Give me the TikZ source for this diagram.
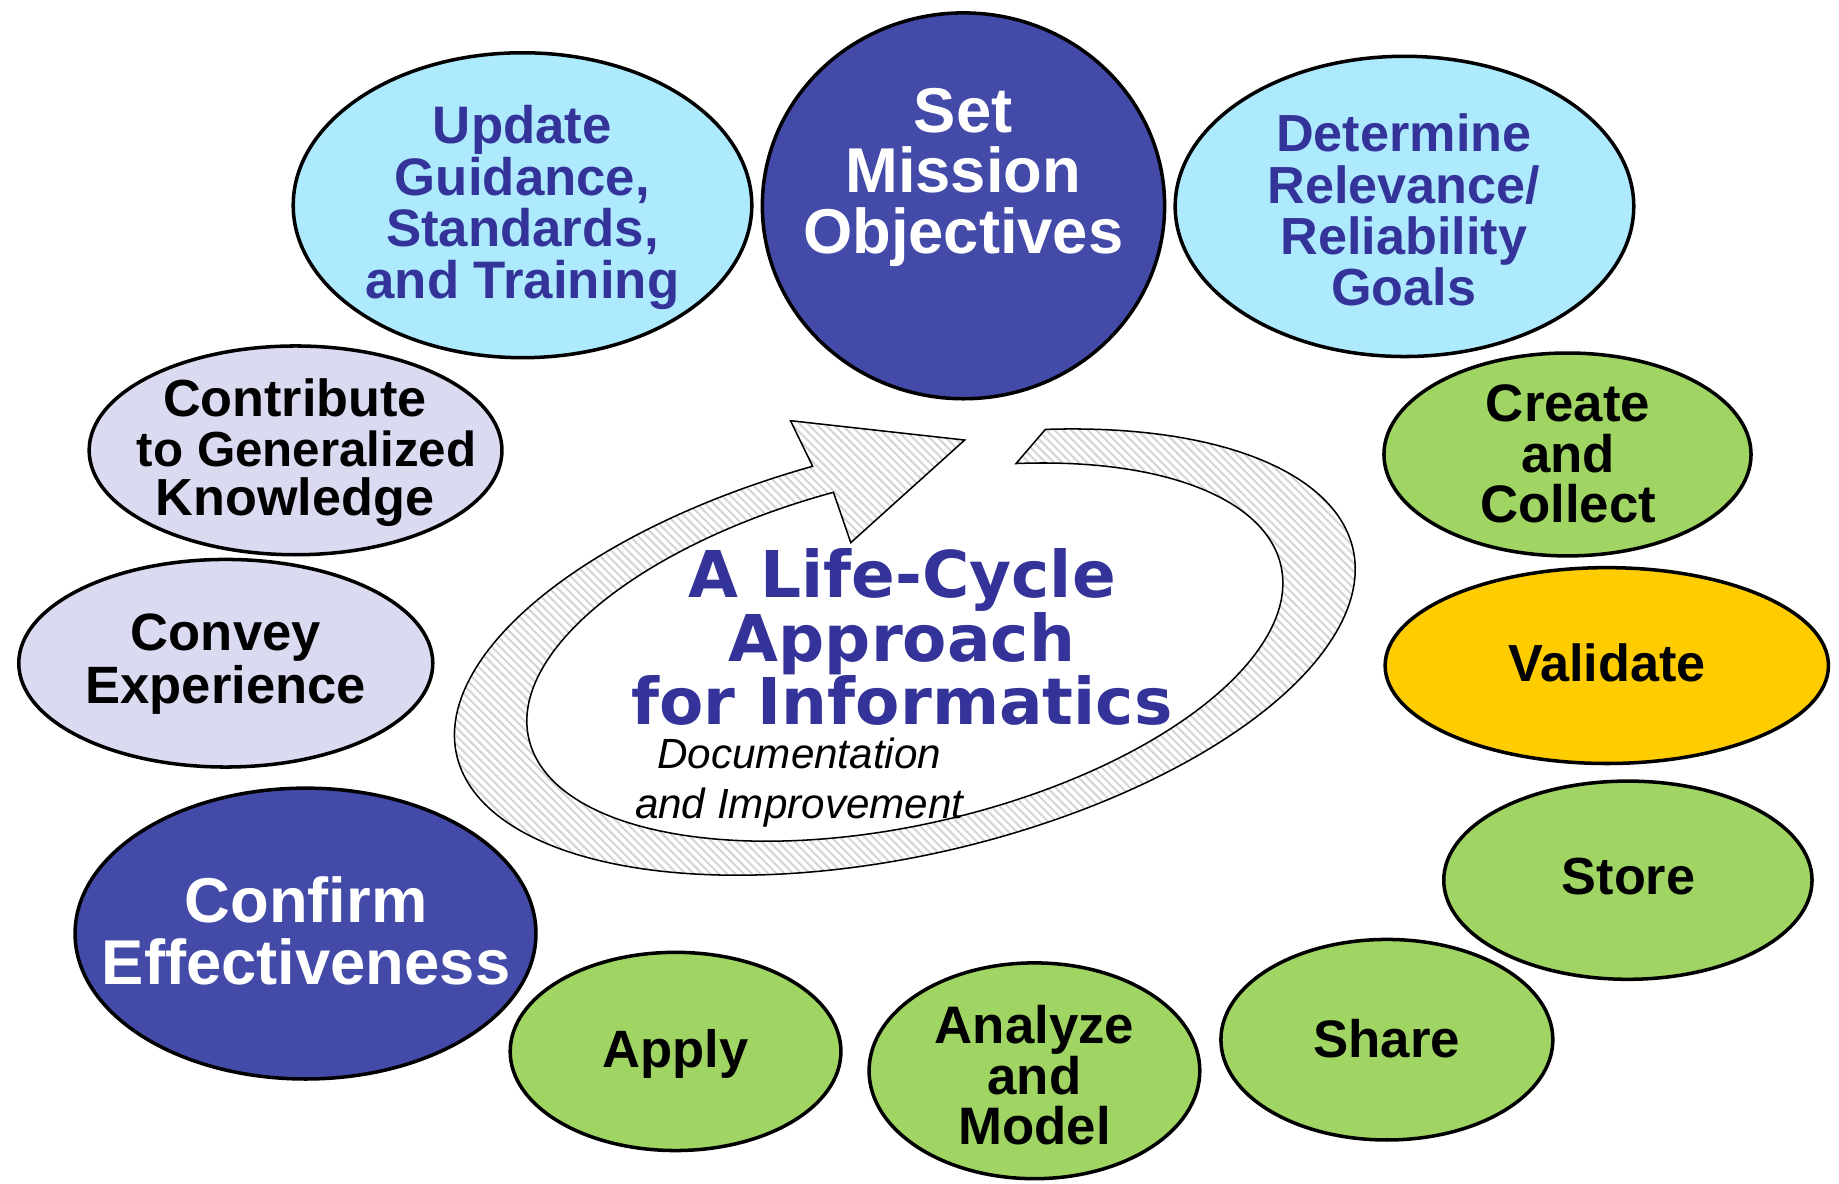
\documentclass[tikz,border=0pt]{standalone}
\usepackage{fontspec}
\setmainfont{Liberation Sans}
\newfontfamily\verdfont{DejaVu Sans}
\usetikzlibrary{shapes.geometric,patterns.meta}

\definecolor{navyfill}{RGB}{67,74,168}
\definecolor{inkblue}{RGB}{51,51,153}
\definecolor{skyfill}{RGB}{174,234,254}
\definecolor{lavfill}{RGB}{218,218,241}
\definecolor{leaffill}{RGB}{160,213,100}
\definecolor{goldfill}{RGB}{255,204,0}

\newcommand{\setfs}[2]{\fontsize{#1}{#2}\selectfont}

\tikzset{
  blob/.style={ellipse, draw=black, line width=3pt, inner sep=0pt},
  label text/.style={inner sep=0pt, align=center},
  band/.style={draw=black, line width=1.3pt, preaction={fill=white},
    pattern={Lines[angle=-45, distance=5pt, line width=1.7pt]}, pattern color=black!17},
}

\begin{document}
\begin{tikzpicture}[x=1pt, y=1pt]
\useasboundingbox (0,0) rectangle (1568,1009);

% ---- central cycle arrow ----
\coordinate (ahB) at (674,650.3);
\coordinate (ahT) at (822.5,633.8);
\coordinate (ahL) at (725.4,546.3);
\begin{scope}[shift={(771.5,453)}, rotate=13]
  \draw[band] (66:392 and 173)
    arc[start angle=66, end angle=-264, x radius=392, y radius=173]
    -- (ahB) -- (ahT) -- (ahL)
    -- (-265:329 and 147)
    arc[start angle=-265, end angle=67, x radius=329, y radius=147]
    -- cycle;
\end{scope}

\node[label text, text=inkblue, font=\verdfont\bfseries\setfs{55}{51.5}] (title) at (769,466)
  {A Life-Cycle\\Approach\\for Informatics};
\node[label text, font=\itshape\setfs{36}{43}] (doc) at (681.5,341.5)
  {Documentation\\and Improvement};

% ---- stages ----
\node[blob, fill=skyfill, minimum width=391pt, minimum height=260pt] (upd) at (445.5,834) {};
\node[blob, fill=navyfill, minimum width=343pt, minimum height=329pt] (set) at (821.5,833.5) {};
\node[blob, fill=skyfill, minimum width=391pt, minimum height=256pt] (det) at (1197.5,833) {};
\node[blob, fill=lavfill, minimum width=352pt, minimum height=178pt] (con) at (252,625) {};
\node[blob, fill=lavfill, minimum width=353pt, minimum height=177pt] (cvy) at (192.5,443.5) {};
\node[blob, fill=navyfill, minimum width=393pt, minimum height=248pt] (cfm) at (260.5,213) {};
\node[blob, fill=leaffill, minimum width=282pt, minimum height=169pt] (app) at (576,112.5) {};
\node[blob, fill=leaffill, minimum width=282pt, minimum height=184pt] (ana) at (882,96) {};
\node[blob, fill=leaffill, minimum width=283pt, minimum height=171pt] (sha) at (1182.5,122.5) {};
\node[blob, fill=leaffill, minimum width=314pt, minimum height=169pt] (sto) at (1388,258.5) {};
\node[blob, fill=goldfill, minimum width=378pt, minimum height=167pt] (val) at (1370,441.5) {};
\node[blob, fill=leaffill, minimum width=313pt, minimum height=173pt] (crt) at (1336.5,621.5) {};

\node[label text, text=inkblue, font=\bfseries\setfs{45}{44}] (updT) at (445.4,832)
  {Update\\Guidance,\\Standards,\\and Training};
\node[label text, text=white, font=\bfseries\setfs{54}{51.5}] (setT) at (821.3,857.8)
  {Set\\Mission\\Objectives};
\node[label text, text=inkblue, font=\bfseries\setfs{44.5}{43.6}] (detT) at (1197,830)
  {Determine\\Relevance/\\Reliability\\Goals};
\node[label text, font=\bfseries\setfs{44.5}{42}] (conT) at (251.5,623)
  {Contribute\\\hspace*{20pt}{\setfs{42}{42}to Generalized}\\Knowledge};
\node[label text, font=\bfseries\setfs{44.8}{45}] (cvyT) at (192.5,443)
  {Convey\\Experience};
\node[label text, text=white, font=\bfseries\setfs{54}{52.5}] (cfmT) at (261,215.5)
  {Confirm\\Effectiveness};
\node[label text, font=\bfseries\setfs{45}{43.3}] (crtT) at (1337,622)
  {Create\\and\\Collect};
\node[label text, font=\bfseries\setfs{44.5}{44}] (valT) at (1370,444) {Validate};
\node[label text, font=\bfseries\setfs{44.5}{44}] (stoT) at (1388.6,262) {Store};
\node[label text, font=\bfseries\setfs{45}{44}] (shaT) at (1182.4,123.6) {Share};
\node[label text, font=\bfseries\setfs{44.8}{44}] (appT) at (576.2,110.3) {Apply};
\node[label text, font=\bfseries\setfs{45}{43}] (anaT) at (882,92)
  {Analyze\\and\\Model};
\end{tikzpicture}
\end{document}
